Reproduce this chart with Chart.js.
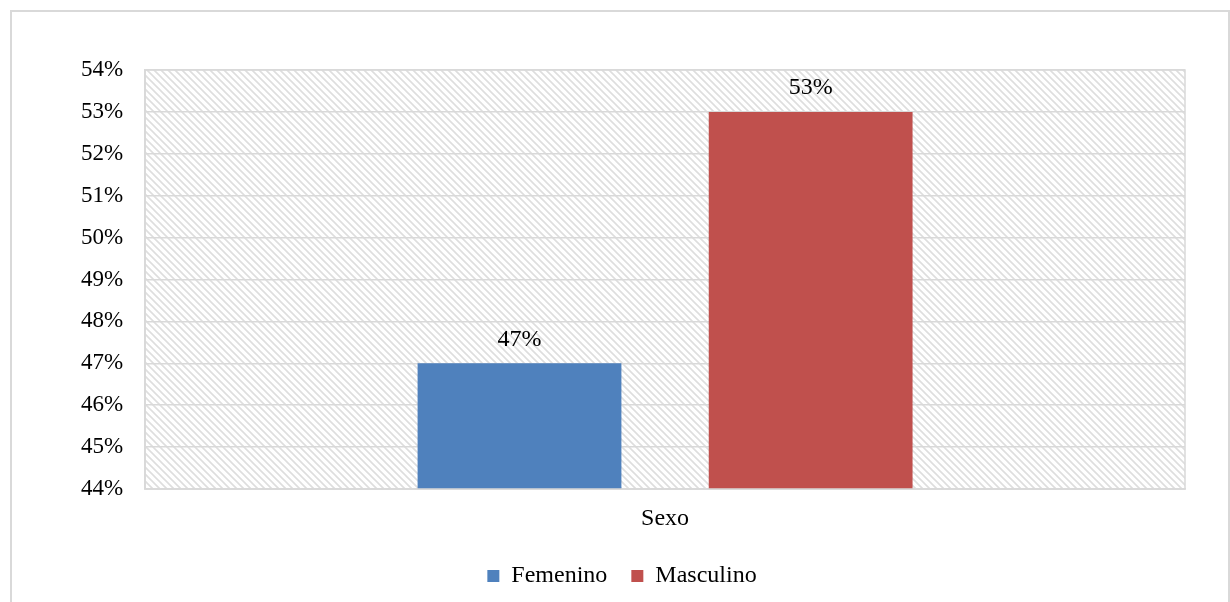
<!DOCTYPE html>
<html>
<head>
<meta charset="utf-8">
<script src="https://cdn.jsdelivr.net/npm/chart.js@4/dist/chart.umd.min.js"></script>
<style>
  body { margin: 0; background: #fff; overflow: hidden; }
  #frame { position: absolute; left: 10px; top: 10px; width: 1216px; height: 640px; border: 2px solid #d9d9d9; }
  #wrap { position: absolute; left: 0; top: 0; width: 1230px; height: 598px; }
</style>
</head>
<body>
<div id="frame"></div>
<div id="wrap"><canvas id="mycanvas" width="1230" height="598"></canvas></div>
<script>
var categories = ['Sexo']
var seriesNames = ['Femenino', 'Masculino']
var femenino = [47]
var masculino = [53]
var yTicks = [44, 45, 46, 47, 48, 49, 50, 51, 52, 53, 54]

var FONT = '"Liberation Serif", "Times New Roman", serif'

function makeHatch(){
    var c = document.createElement('canvas')
    c.width = 7
    c.height = 7
    var g = c.getContext('2d')
    g.fillStyle = '#ffffff'
    g.fillRect(0, 0, 7, 7)
    g.strokeStyle = '#dedede'
    g.lineWidth = 1.6
    g.beginPath()
    g.moveTo(-1, -1); g.lineTo(8, 8)
    g.moveTo(-8, -1); g.lineTo(1, 8)
    g.moveTo(6, -1); g.lineTo(15, 8)
    g.stroke()
    return g.createPattern(c, 'repeat')
}

var plotBackground = {
    id: 'plotBackground',
    beforeDraw: function(chart){
        var a = chart.chartArea
        var ctx = chart.ctx
        ctx.save()
        ctx.fillStyle = makeHatch()
        ctx.fillRect(a.left, a.top, a.right - a.left, a.bottom - a.top)
        ctx.restore()
    },
    afterDraw: function(chart){
        var a = chart.chartArea
        var ctx = chart.ctx
        ctx.save()
        ctx.strokeStyle = '#d9d9d9'
        ctx.lineWidth = 1.5
        ctx.strokeRect(a.left, a.top, a.right - a.left, a.bottom - a.top)
        ctx.restore()
    }
}

var valueLabels = {
    id: 'valueLabels',
    afterDatasetsDraw: function(chart){
        var ctx = chart.ctx
        ctx.save()
        ctx.font = '24px ' + FONT
        ctx.fillStyle = '#000'
        ctx.textAlign = 'center'
        ctx.textBaseline = 'middle'
        chart.data.datasets.forEach(function(ds, i){
            chart.getDatasetMeta(i).data.forEach(function(bar, j){
                ctx.fillText(ds.data[j] + '%', bar.x, bar.y - 24)
            })
        })
        ctx.restore()
    }
}

var context = document.getElementById('mycanvas').getContext('2d')
new Chart(context, {
    type: 'bar',
    data: {
        labels: categories,
        datasets: [{
            label: seriesNames[0],
            data: femenino,
            backgroundColor: '#4f81bd',
            categoryPercentage: 0.56,
            barPercentage: 0.7
        }, {
            label: seriesNames[1],
            data: masculino,
            backgroundColor: '#c0504d',
            categoryPercentage: 0.56,
            barPercentage: 0.7
        }]
    },
    options: {
        responsive: false,
        animation: false,
        layout: { padding: { left: 59, right: 45, top: 70, bottom: 0 } },
        scales: {
            x: {
                grid: { display: false },
                border: { color: '#d9d9d9', width: 1.5 },
                ticks: { color: '#000', font: { family: FONT, size: 24 }, padding: 7 },
                afterFit: function(scale){ scale.height = 51 }
            },
            y: {
                min: yTicks[0],
                max: yTicks[yTicks.length - 1],
                afterBuildTicks: function(scale){
                    scale.ticks = yTicks.map(function(v){ return { value: v } })
                },
                grid: { color: '#d9d9d9', lineWidth: 1.5, drawTicks: false },
                border: { color: '#d9d9d9', width: 1.5 },
                ticks: {
                    color: '#000',
                    font: { family: FONT, size: 23 },
                    padding: 22,
                    callback: function(v){ return v + '%' }
                }
            }
        },
        plugins: {
            legend: {
                position: 'bottom',
                labels: {
                    color: '#000',
                    font: { family: FONT, size: 24 },
                    boxWidth: 12,
                    boxHeight: 12,
                    padding: 24
                }
            },
            tooltip: { enabled: false }
        }
    },
    plugins: [plotBackground, valueLabels]
})
</script>
</body>
</html>
